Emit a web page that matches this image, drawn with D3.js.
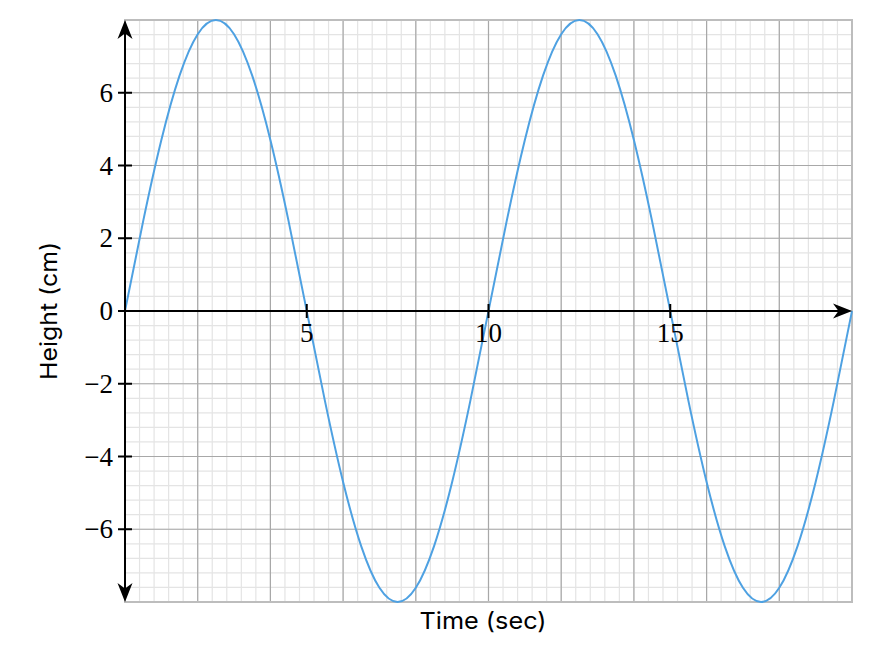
<!DOCTYPE html>
<html><head><meta charset="utf-8">
<script src="https://cdn.jsdelivr.net/npm/d3@7"></script>
<style>body{margin:0;background:#fff}</style>
</head><body>
<svg id="chart" width="872" height="656"></svg>
<script>
const times = [0,0.5,1,1.5,2,2.5,3,3.5,4,4.5,5,5.5,6,6.5,7,7.5,8,8.5,9,9.5,10,
  10.5,11,11.5,12,12.5,13,13.5,14,14.5,15,15.5,16,16.5,17,17.5,18,18.5,19,19.5,20];
const heights = [0,2.47,4.70,6.47,7.61,8,7.61,6.47,4.70,2.47,0,-2.47,-4.70,-6.47,-7.61,-8,-7.61,-6.47,-4.70,-2.47,0,
  2.47,4.70,6.47,7.61,8,7.61,6.47,4.70,2.47,0,-2.47,-4.70,-6.47,-7.61,-8,-7.61,-6.47,-4.70,-2.47,0];
const xTickValues = [5,10,15];
const yTickValues = [-6,-4,-2,0,2,4,6];
const xLabel = "Time (sec)";
const yLabel = "Height (cm)";

const svg = d3.select("#chart");
const L = 125, R = 852, T = 20, B = 602;
const x = d3.scaleLinear().domain([0,20]).range([L,R]);
const y = d3.scaleLinear().domain([-8,8]).range([B,T]);

const minorX = d3.range(0, 20.001, 0.4), minorY = d3.range(-8, 8.001, 0.4);
const majorX = d3.range(0, 20.001, 2), majorY = d3.range(-8, 8.001, 2);

const g = svg.append("g");
g.selectAll(".mx").data(minorX).join("line")
  .attr("x1", d=>x(d)).attr("x2", d=>x(d)).attr("y1", T).attr("y2", B)
  .attr("stroke", "#e4e4e4").attr("stroke-width", 1.2);
g.selectAll(".my").data(minorY).join("line")
  .attr("y1", d=>y(d)).attr("y2", d=>y(d)).attr("x1", L).attr("x2", R)
  .attr("stroke", "#e4e4e4").attr("stroke-width", 1.2);
g.selectAll(".Mx").data(majorX).join("line")
  .attr("x1", d=>x(d)).attr("x2", d=>x(d)).attr("y1", T).attr("y2", B)
  .attr("stroke", "#a8a8a8").attr("stroke-width", 1.2);
g.selectAll(".My").data(majorY).join("line")
  .attr("y1", d=>y(d)).attr("y2", d=>y(d)).attr("x1", L).attr("x2", R)
  .attr("stroke", "#a8a8a8").attr("stroke-width", 1.2);
g.append("rect").attr("x", L).attr("y", T).attr("width", R-L).attr("height", B-T)
  .attr("fill", "none").attr("stroke", "#bdbdbd").attr("stroke-width", 2);

// curve
const pts = times.map((t,i)=>[t, heights[i]]);
svg.append("path").datum(pts)
  .attr("d", d3.line().x(d=>x(d[0])).y(d=>y(d[1])).curve(d3.curveNatural))
  .attr("fill", "none").attr("stroke", "#4ea1e2").attr("stroke-width", 2);

// axes
const ax = svg.append("g");
ax.append("line").attr("x1", x(0)).attr("x2", x(0)).attr("y1", B-12).attr("y2", T+12)
  .attr("stroke", "#000").attr("stroke-width", 2);
ax.append("line").attr("x1", x(0)).attr("x2", R-12).attr("y1", y(0)).attr("y2", y(0))
  .attr("stroke", "#000").attr("stroke-width", 2);
const head = "M0,0 L-19,-7.5 L-13.5,0 L-19,7.5 Z";
ax.append("path").attr("d", head).attr("transform", `translate(${x(0)},${T}) rotate(-90)`).attr("fill", "#000");
ax.append("path").attr("d", head).attr("transform", `translate(${x(0)},${B}) rotate(90)`).attr("fill", "#000");
ax.append("path").attr("d", head).attr("transform", `translate(${R},${y(0)})`).attr("fill", "#000");

// y ticks
const fmt = d3.format("d");
const yt = ax.selectAll(".yt").data(yTickValues).join("g")
  .attr("transform", d=>`translate(${x(0)},${y(d)})`);
yt.append("line").attr("x1", -7).attr("x2", 7).attr("stroke", "#000").attr("stroke-width", 2);
yt.append("text").attr("x", -12).attr("dy", "0.34em").attr("text-anchor", "end")
  .attr("font-family", "Liberation Serif, serif").attr("font-size", 27).text(d=>fmt(d));

// x ticks
const xt = ax.selectAll(".xt").data(xTickValues).join("g")
  .attr("transform", d=>`translate(${x(d)},${y(0)})`);
xt.append("line").attr("y1", -7).attr("y2", 7).attr("stroke", "#000").attr("stroke-width", 2);
xt.append("text").attr("y", 31).attr("text-anchor", "middle")
  .attr("font-family", "Liberation Serif, serif").attr("font-size", 27).text(d=>fmt(d));

// axis labels
svg.append("text").attr("x", 483).attr("y", 629).attr("text-anchor", "middle")
  .attr("font-family", "Inter, Liberation Sans, sans-serif").attr("font-size", 23.5)
  .attr("textLength", 127).attr("lengthAdjust", "spacingAndGlyphs").text(xLabel);
svg.append("text").attr("transform", `translate(57,${y(0)}) rotate(-90)`).attr("text-anchor", "middle")
  .attr("font-family", "Inter, Liberation Sans, sans-serif").attr("font-size", 23.5)
  .attr("textLength", 138).attr("lengthAdjust", "spacingAndGlyphs").text(yLabel);
</script>
</body></html>
